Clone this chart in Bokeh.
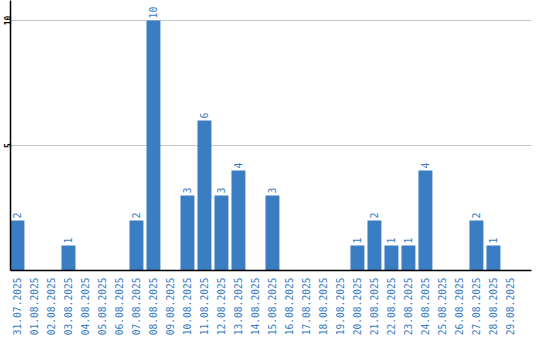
import math
from bokeh.plotting import figure
from bokeh.models import Range1d, FixedTicker, ColumnDataSource
from bokeh.core.properties import value
from bokeh.embed import file_html
from bokeh.resources import INLINE

dates = ["31.07.2025", "01.08.2025", "02.08.2025", "03.08.2025", "04.08.2025",
         "05.08.2025", "06.08.2025", "07.08.2025", "08.08.2025", "09.08.2025",
         "10.08.2025", "11.08.2025", "12.08.2025", "13.08.2025", "14.08.2025",
         "15.08.2025", "16.08.2025", "17.08.2025", "18.08.2025", "19.08.2025",
         "20.08.2025", "21.08.2025", "22.08.2025", "23.08.2025", "24.08.2025",
         "25.08.2025", "26.08.2025", "27.08.2025", "28.08.2025", "29.08.2025"]
counts = [2, 0, 0, 1, 0, 0, 0, 2, 10, 0,
          3, 6, 3, 4, 0, 3, 0, 0, 0, 0,
          1, 2, 1, 1, 4, 0, 0, 2, 1, 0]
y_ticks = [5, 10]

BLUE = "#3a7dc3"
BW = 0.82
xs = [i + BW / 2 for i in range(len(dates))]

p = figure(width=540, height=340, output_backend="svg", toolbar_location=None,
           x_range=Range1d(0, 30.65), y_range=Range1d(0, 10.8),
           min_border_left=0, min_border_right=9, min_border_top=0, min_border_bottom=70)
p.outline_line_color = None
p.background_fill_color = "white"

src = ColumnDataSource(dict(x=xs, top=counts))
p.vbar(x="x", top="top", bottom=0, width=BW, source=src, fill_color=BLUE, line_color=None)

lx = [xs[i] for i, c in enumerate(counts) if c > 0]
ly = [c for c in counts if c > 0]
lt = [str(c) for c in counts if c > 0]
p.text(x=lx, y=ly, text=lt, angle=math.pi / 2, text_align="left", text_baseline="middle",
       y_offset=-2, text_color=BLUE, text_font=value("DejaVu Sans Mono"), text_font_size="10px")

p.xgrid.grid_line_color = None
p.ygrid.ticker = FixedTicker(ticks=y_ticks)
p.ygrid.grid_line_color = "#c8c8c8"

xa = p.xaxis[0]
xa.ticker = FixedTicker(ticks=xs)
xa.major_label_overrides = {x: d for x, d in zip(xs, dates)}
xa.major_label_orientation = math.pi / 2
xa.major_label_text_color = BLUE
xa.major_label_text_font = "DejaVu Sans Mono"
xa.major_label_text_font_size = "9.6px"
xa.major_tick_line_color = None
xa.minor_tick_line_color = None
xa.major_tick_out = 0
xa.major_tick_in = 0
xa.minor_tick_out = 0
xa.minor_tick_in = 0
xa.axis_line_color = "black"
xa.axis_line_width = 1.5
xa.major_label_standoff = 7

ya = p.yaxis[0]
ya.ticker = FixedTicker(ticks=y_ticks)
ya.major_label_orientation = "vertical"
ya.major_label_text_color = "black"
ya.major_label_text_font = "DejaVu Sans Mono"
ya.major_label_text_font_size = "8px"
ya.major_label_text_font_style = "bold"
ya.major_tick_line_color = None
ya.minor_tick_line_color = None
ya.major_tick_out = 0
ya.major_tick_in = 0
ya.minor_tick_out = 0
ya.minor_tick_in = 0
ya.axis_line_color = "black"
ya.axis_line_width = 1.5
ya.major_label_standoff = 0

open("out.html", "w").write(file_html(p, INLINE))
